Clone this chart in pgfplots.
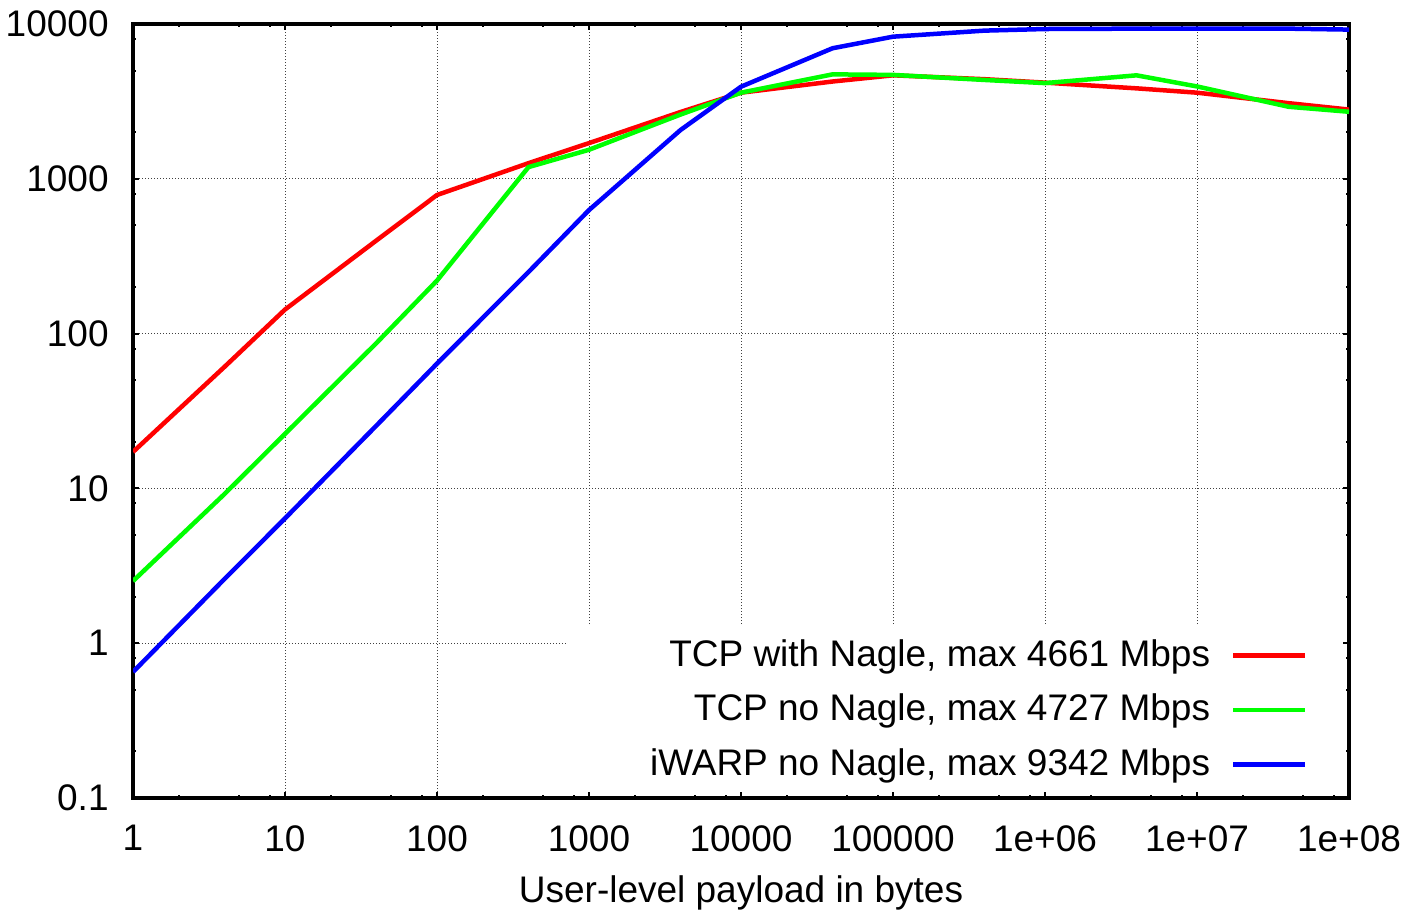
\documentclass[border=0pt]{standalone}
\usepackage{fontspec}
\setmainfont{Liberation Sans}
\usepackage{pgfplots}
\pgfplotsset{compat=1.18}

\newcommand{\gfont}{\fontsize{18.5}{22}\selectfont}

\begin{document}
\gfont
\begin{tikzpicture}
\begin{axis}[
    set layers,
    width=608pt, height=387pt, scale only axis,
    xmode=log, ymode=log,
    xmin=1, xmax=1e8, ymin=0.1, ymax=10000,
    xtick={1,10,100,1000,10000,100000,1e6,1e7,1e8},
    xticklabels={1,10,100,1000,10000,100000,1e+06,1e+07,1e+08},
    ytick={0.1,1,10,100,1000,10000},
    yticklabels={0.1,1,10,100,1000,10000},
    minor xtick={2,5,8,20,50,80,200,500,800,2000,5000,8000,2e4,5e4,8e4,2e5,5e5,8e5,2e6,5e6,8e6,2e7,5e7,8e7},
    minor ytick={0.2,0.5,0.8,2,5,8,20,50,80,200,500,800,2000,5000,8000},
    tick align=inside,
    major tick length=3pt, minor tick length=1.5pt,
    every tick/.style={black, line width=1pt},
    axis line style={black, line width=1.75pt},
    grid=major,
    major grid style={black!75, line width=0.5pt, dash pattern=on 0.5pt off 1pt},
    tick label style={font=\gfont},
    xticklabel style={inner sep=0pt, yshift=-13.5pt},
    yticklabel style={inner sep=0pt, xshift=-12pt},
    xlabel={User-level payload in bytes},
    xlabel style={font=\gfont, at={(rel axis cs:0.5,0)}, anchor=north, inner sep=0pt, yshift=-38.5pt},
    legend style={at={(rel axis cs:1,0)}, anchor=south east, xshift=-20.5pt, yshift=8.5pt,
                  draw=none, fill=none, inner sep=0pt, row sep=11pt, column sep=10.5pt,
                  nodes={inner sep=0pt, font=\gfont}},
    legend cell align=right,
    legend plot pos=right,
    legend image code/.code={\draw[#1] (0pt,0pt) -- (36pt,0pt);},
]

% white key area hides the grid
\begin{pgfonlayer}{axis grid}
\fill[white] (rel axis cs:0.3577,0) rectangle (rel axis cs:1,0.2222);
\end{pgfonlayer}

\addplot[red, line width=2.25pt] coordinates {
(1,17.2) (4,61) (10,143) (40,400) (100,786) (400,1262) (1000,1700) (4000,2700)
(1e4,3600) (4e4,4250) (1e5,4661) (4e5,4400) (1e6,4180) (4e6,3840) (1e7,3600)
(4e7,3080) (1e8,2800)
};
\addlegendentry{TCP with Nagle, max 4661 Mbps}

\addplot[green, line width=2.25pt] coordinates {
(1,2.52) (4,9.2) (10,22.5) (40,87) (100,220) (400,1190) (1000,1540) (4000,2600)
(1e4,3600) (4e4,4727) (1e5,4690) (4e5,4350) (1e6,4150) (4e6,4660) (1e7,3950)
(4e7,2920) (1e8,2710)
};
\addlegendentry{TCP no Nagle, max 4727 Mbps}

\addplot[blue, line width=2.25pt] coordinates {
(1,0.652) (4,2.6) (10,6.4) (40,25.5) (100,64) (400,250) (1000,628) (4000,2066)
(1e4,3935) (4e4,6970) (1e5,8280) (4e5,9060) (1e6,9280) (4e6,9330) (1e7,9342)
(4e7,9330) (1e8,9200)
};
\addlegendentry{iWARP no Nagle, max 9342 Mbps}

\end{axis}
\path (current axis.south west) ++(-66.5pt,-56pt) rectangle ++(708pt,455pt);
\end{tikzpicture}
\end{document}
